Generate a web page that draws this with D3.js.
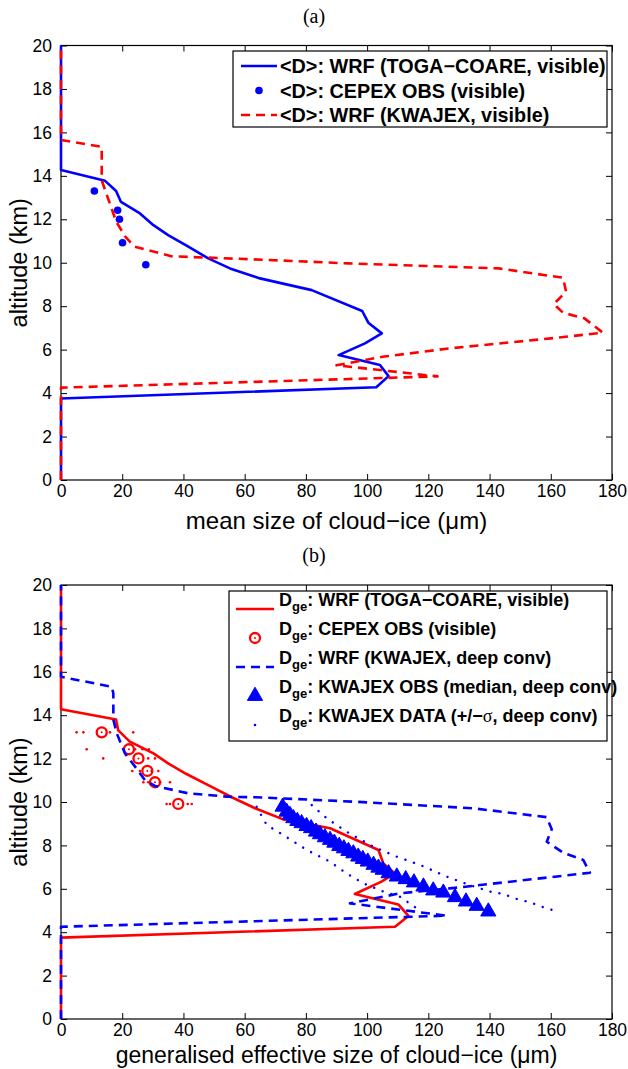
<!DOCTYPE html>
<html>
<head>
<meta charset="utf-8">
<script src="https://cdn.jsdelivr.net/npm/d3@7/dist/d3.min.js"></script>
<style>
  body { margin: 0; background: #fff; }
  svg { font-family: "Liberation Sans", Arial, sans-serif; }
</style>
</head>
<body>
<svg id="fig" width="628" height="1069"></svg>
<script>
// ---- data: size (um) against altitude (km) ----
// panel (a): mean size <D>
const togaMeanSize = [0, 0, 103, 107, 104.2, 90.7, 99.3, 104.8, 100.4, 98.4, 81.9, 65, 55.2, 48.1, 41.6, 35, 30.2, 25.8, 19.6, 18, 14.4, 0, 0];
const togaMeanAlt  = [0, 3.75, 4.27, 4.78, 5.29, 5.75, 6.29, 6.75, 7.24, 7.78, 8.74, 9.28, 9.74, 10.2, 10.74, 11.27, 11.73, 12.27, 12.8, 13.3, 13.77, 14.27, 20];

const cepexMeanSize = [10.9, 18.5, 19.1, 20.1, 27.7];
const cepexMeanAlt  = [13.3, 12.42, 12.0, 10.92, 9.91];

const kwajMeanSize = [0, 0, 123, 90, 105, 127, 160, 177, 171, 164, 161, 165, 164, 143, 94, 62, 36, 24, 21, 18, 14.4, 13.3, 13.3, 0, 0];
const kwajMeanAlt  = [0, 4.25, 4.77, 5.28, 5.67, 6.06, 6.52, 6.78, 7.44, 7.7, 8.1, 8.67, 9.31, 9.74, 9.97, 10.16, 10.3, 10.74, 11.2, 11.9, 13.35, 13.8, 15.34, 15.65, 20];

// panel (b): generalised effective size D_ge
const togaDgeSize = [0, 0, 109.1, 113.5, 110.2, 96, 104.7, 109.1, 105.3, 103.7, 87.9, 72.6, 63.4, 55.8, 48.1, 41, 35, 30.2, 22.5, 18.7, 18, 0, 0];
const togaDgeAlt  = [0, 3.75, 4.25, 4.75, 5.28, 5.76, 6.33, 6.71, 7.17, 7.79, 8.79, 9.2, 9.71, 10.22, 10.78, 11.29, 11.78, 12.24, 12.78, 13.3, 13.8, 14.27, 20];

const cepexDgeSize = [13.3, 22.2, 25.3, 28.2, 30.7, 38.3];
const cepexDgeAlt  = [13.21, 12.43, 12.01, 11.43, 10.91, 9.91];
// scatter of the CEPEX spread, drawn as small dots on the same levels
const cepexSpreadSize = [5.1, 7.3, 16, 23.6, 8.4, 24.2, 26.6, 28.7, 13.8, 28.5, 30.7, 23.3, 25.8, 29.6, 31.8, 26.9, 28.5, 32.4, 35.6, 34.5, 35.6, 41.4, 42.7];
const cepexSpreadAlt  = [13.21, 13.21, 13.21, 13.21, 12.43, 12.43, 12.43, 12.43, 12.01, 12.01, 12.01, 11.43, 11.43, 11.43, 11.43, 10.91, 10.91, 10.91, 10.91, 9.91, 9.91, 9.91, 9.91];

const kwajDgeSize = [0, 0, 126, 94.4, 110.7, 127.1, 156.5, 172.8, 170.6, 164.1, 158.7, 160.3, 158.7, 134.7, 96.6, 63.4, 54.7, 41.6, 30.7, 27.4, 24.2, 20.9, 18.2, 17.1, 17.1, 16.6, 0, 0];
const kwajDgeAlt  = [0, 4.25, 4.76, 5.33, 5.79, 6.02, 6.48, 6.74, 7.33, 7.66, 8.17, 8.74, 9.3, 9.71, 10.01, 10.22, 10.24, 10.4, 10.74, 11.01, 11.63, 12.24, 13.17, 13.8, 15.0, 15.31, 15.77, 20];

const kwajObsSize = [72.4, 73.7, 74.8, 75.9, 77.2, 78.6, 80.2, 81.7, 83.3, 84.6, 86.2, 87.9, 89.3, 90.9, 92.4, 93.9, 95.5, 97.1, 98.6, 100.2, 102.1, 103.7, 105.1, 107.0, 109.7, 112.6, 115.3, 118.4, 121.6, 124.9, 128.7, 132.3, 135.8, 139.6];
const kwajObsAlt  = [9.78, 9.55, 9.40, 9.25, 9.12, 9.02, 8.89, 8.79, 8.63, 8.51, 8.37, 8.25, 8.12, 7.97, 7.86, 7.74, 7.63, 7.48, 7.37, 7.25, 7.10, 6.97, 6.87, 6.71, 6.56, 6.44, 6.29, 6.10, 5.92, 5.82, 5.61, 5.41, 5.21, 4.95];

const kwajLoSize = [63.9, 67.2, 72.6, 80.3, 87.9, 93.3, 98.8, 105.3, 110.7, 116.2];
const kwajLoAlt  = [9.78, 8.94, 8.48, 7.79, 7.25, 6.71, 6.25, 5.87, 5.64, 5.1];
const kwajHiSize = [81.9, 86.8, 93.3, 102, 109.7, 117.3, 126, 133.6, 140.2, 144.5, 148.9, 153.2, 157.6, 162.8];
const kwajHiAlt  = [9.86, 9.25, 8.63, 7.94, 7.48, 7.10, 6.56, 6.17, 5.87, 5.76, 5.53, 5.38, 5.15, 4.92];

const xTicks = [0, 20, 40, 60, 80, 100, 120, 140, 160, 180];
const yTicks = [0, 2, 4, 6, 8, 10, 12, 14, 16, 18, 20];

const RED = "#ff0000", BLUE = "#0000ff";

const svg = d3.select("#fig");
const zip = (xs, ys) => xs.map((v, i) => [v, ys[i]]);

function makePanel(top, bottom, title, xlabel, labelGap, labelSize){
    const left = 61, right = 612;
    const x = d3.scaleLinear().domain([0, 180]).range([left, right]);
    const y = d3.scaleLinear().domain([0, 20]).range([bottom, top]);
    const g = svg.append("g");

    g.append("text").attr("x", 314).attr("y", top - 23)
        .attr("text-anchor", "middle").attr("font-family", "Liberation Serif, serif")
        .attr("font-size", 20).text(title);

    const ax = (gen, tx, ty) => {
        const a = g.append("g").attr("transform", `translate(${tx},${ty})`).call(gen);
        a.select(".domain").remove();
        a.selectAll("text").attr("font-size", 17.5).attr("fill", "#000")
            .attr("font-family", "Liberation Sans, Arial, sans-serif");
        a.selectAll("line").attr("stroke", "#000");
        return a;
    };
    ax(d3.axisBottom(x).tickValues(xTicks).tickSize(-6).tickPadding(5), 0, bottom);
    ax(d3.axisTop(x).tickValues(xTicks).tickSize(-6).tickFormat(""), 0, top);
    ax(d3.axisLeft(y).tickValues(yTicks).tickSize(-6).tickPadding(9), left, 0);
    ax(d3.axisRight(y).tickValues(yTicks).tickSize(-6).tickFormat(""), right, 0);

    g.append("rect").attr("x", left).attr("y", top)
        .attr("width", right - left).attr("height", bottom - top)
        .attr("fill", "none").attr("stroke", "#000").attr("stroke-width", 1.2);

    g.append("text").attr("x", (left + right) / 2).attr("y", bottom + labelGap)
        .attr("text-anchor", "middle").attr("font-size", labelSize).text(xlabel);

    g.append("text").attr("transform", `translate(27,${(top + bottom) / 2}) rotate(-90)`)
        .attr("text-anchor", "middle").attr("font-size", 23.5).text("altitude (km)");

    return {g, x, y};
}

function drawLine(p, pts, color, dash, width){
    const line = d3.line().x(d => p.x(d[0])).y(d => p.y(d[1]));
    return p.g.append("path").datum(pts).attr("d", line)
        .attr("fill", "none").attr("stroke", color)
        .attr("stroke-width", width || 2.6)
        .attr("stroke-dasharray", dash || null)
        .attr("stroke-linejoin", "round");
}

// ---------------- panel (a) ----------------
const pa = makePanel(45.5, 480, "(a)", "mean size of cloud\u2212ice (\u03bcm)", 49, 24);
drawLine(pa, zip(togaMeanSize, togaMeanAlt), BLUE);
pa.g.append("g").selectAll("circle").data(zip(cepexMeanSize, cepexMeanAlt)).enter()
    .append("circle").attr("cx", d => pa.x(d[0])).attr("cy", d => pa.y(d[1]))
    .attr("r", 3.8).attr("fill", BLUE);
drawLine(pa, zip(kwajMeanSize, kwajMeanAlt), RED, "9,6");

// legend (a)
const la = pa.g.append("g");
la.append("rect").attr("x", 233).attr("y", 51).attr("width", 374).attr("height", 76)
    .attr("fill", "#fff").attr("stroke", "#000").attr("stroke-width", 1.2);
const legA = [
    {label: "<D>: WRF (TOGA\u2212COARE, visible)", color: BLUE, kind: "line"},
    {label: "<D>: CEPEX OBS (visible)", color: BLUE, kind: "dot"},
    {label: "<D>: WRF (KWAJEX, visible)", color: RED, kind: "dash"}
];
legA.forEach((d, i) => {
    const cy = 66 + i * 24.5;
    if (d.kind === "dot") {
        la.append("circle").attr("cx", 259).attr("cy", cy).attr("r", 3.8).attr("fill", d.color);
    } else {
        la.append("line").attr("x1", 241).attr("x2", 277).attr("y1", cy).attr("y2", cy)
            .attr("stroke", d.color).attr("stroke-width", 2.6)
            .attr("stroke-dasharray", d.kind === "dash" ? "9,6" : null);
    }
    la.append("text").attr("x", 280).attr("y", cy + 7)
        .attr("font-size", 19.8).attr("font-weight", "bold").text(d.label);
});

// ---------------- panel (b) ----------------
const pb = makePanel(585, 1019, "(b)", "generalised effective size of cloud\u2212ice (\u03bcm)", 44, 23);
drawLine(pb, zip(togaDgeSize, togaDgeAlt), RED);

// CEPEX spread dots and circles
pb.g.append("g").selectAll("circle").data(zip(cepexSpreadSize, cepexSpreadAlt)).enter()
    .append("circle").attr("cx", d => pb.x(d[0])).attr("cy", d => pb.y(d[1]))
    .attr("r", 1.3).attr("fill", RED);
const cg = pb.g.append("g").selectAll("g").data(zip(cepexDgeSize, cepexDgeAlt)).enter().append("g")
    .attr("transform", d => `translate(${pb.x(d[0])},${pb.y(d[1])})`);
cg.append("circle").attr("r", 5).attr("fill", "none").attr("stroke", RED).attr("stroke-width", 2.3);
cg.append("circle").attr("r", 1).attr("fill", RED);

drawLine(pb, zip(kwajDgeSize, kwajDgeAlt), BLUE, "9,6");

const tri = d3.symbol().type(d3.symbolTriangle).size(100);
pb.g.append("g").selectAll("path").data(zip(kwajObsSize, kwajObsAlt)).enter()
    .append("path").attr("d", tri)
    .attr("transform", d => `translate(${pb.x(d[0])},${pb.y(d[1])})`)
    .attr("fill", BLUE).attr("stroke", BLUE).attr("stroke-width", 1);

drawLine(pb, zip(kwajLoSize, kwajLoAlt), BLUE, "0.1,9", 2.4).attr("stroke-linecap", "round");
drawLine(pb, zip(kwajHiSize, kwajHiAlt), BLUE, "0.1,9", 2.4).attr("stroke-linecap", "round");

// legend (b)
const lb = pb.g.append("g");
lb.append("rect").attr("x", 229).attr("y", 591).attr("width", 378).attr("height", 150)
    .attr("fill", "#fff").attr("stroke", "#000").attr("stroke-width", 1.2);
const legB = [
    {label: ": WRF (TOGA\u2212COARE, visible)", color: RED, kind: "line"},
    {label: ": CEPEX OBS (visible)", color: RED, kind: "circle"},
    {label: ": WRF (KWAJEX, deep conv)", color: BLUE, kind: "dash"},
    {label: ": KWAJEX OBS (median, deep conv)", color: BLUE, kind: "tri"},
    {label: ": KWAJEX DATA (+/\u2212", sigma: true, color: BLUE, kind: "dot"}
];
legB.forEach((d, i) => {
    const ty = 606 + i * 29;
    const cy = ty + 3;
    if (d.kind === "line" || d.kind === "dash") {
        lb.append("line").attr("x1", 236).attr("x2", 274).attr("y1", cy).attr("y2", cy)
            .attr("stroke", d.color).attr("stroke-width", 2.6)
            .attr("stroke-dasharray", d.kind === "dash" ? "9,6" : null);
    } else if (d.kind === "circle") {
        lb.append("circle").attr("cx", 255).attr("cy", cy).attr("r", 5)
            .attr("fill", "none").attr("stroke", d.color).attr("stroke-width", 2.3);
        lb.append("circle").attr("cx", 255).attr("cy", cy).attr("r", 1).attr("fill", d.color);
    } else if (d.kind === "tri") {
        lb.append("path").attr("d", tri).attr("transform", `translate(255,${cy})`)
            .attr("fill", d.color).attr("stroke", d.color);
    } else {
        lb.append("circle").attr("cx", 255).attr("cy", cy).attr("r", 1.3).attr("fill", d.color);
    }
    const t = lb.append("text").attr("x", 279).attr("y", ty)
        .attr("font-size", 18).attr("font-weight", "bold");
    t.append("tspan").text("D");
    t.append("tspan").attr("font-size", 13).attr("dy", 5).text("ge");
    t.append("tspan").attr("dy", -5).text(d.label);
    if (d.sigma) {
        t.append("tspan").attr("font-family", "Liberation Serif, serif").attr("font-weight", "normal").text("\u03c3");
        t.append("tspan").text(", deep conv)");
    }
});
</script>
</body>
</html>
